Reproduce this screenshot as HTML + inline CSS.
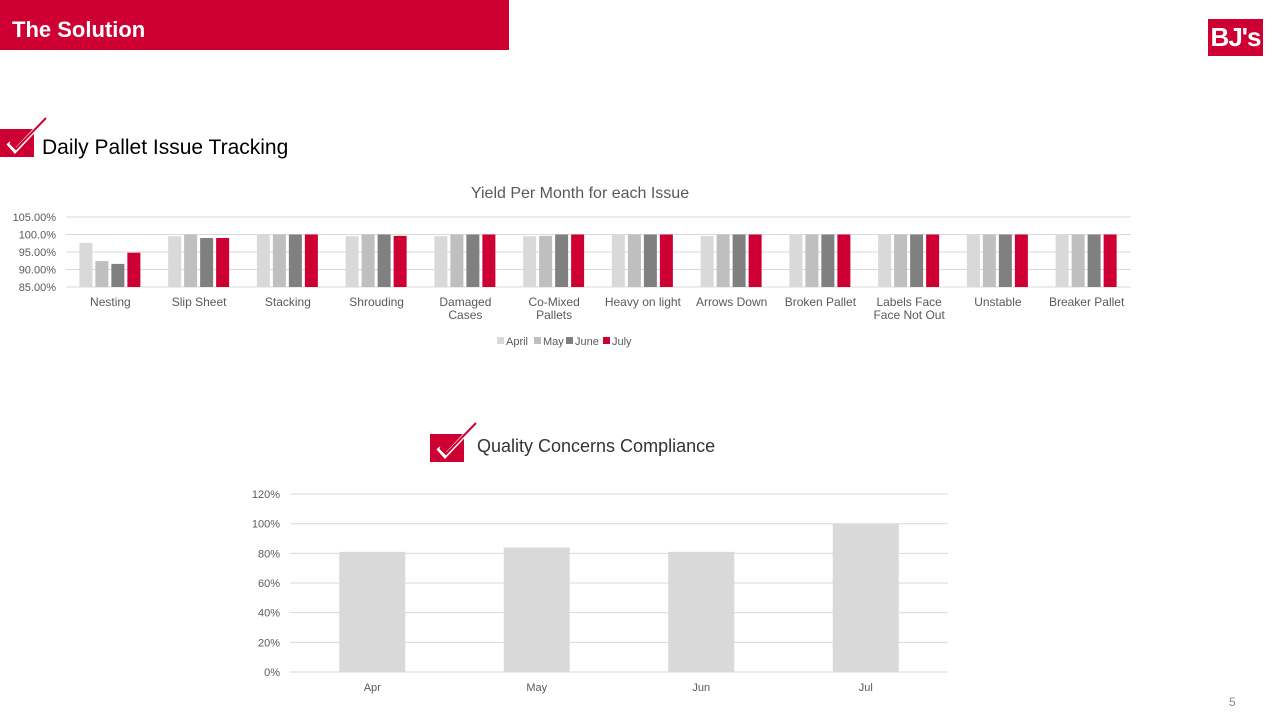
<!DOCTYPE html>
<html><head><meta charset="utf-8"><style>
body{margin:0;width:1280px;height:720px;background:#fff;position:relative;overflow:hidden;font-family:"Liberation Sans",sans-serif}
.abs{position:absolute}
</style></head><body>
<div class="abs" style="left:0;top:0;width:509px;height:50px;background:#ce0033"></div>
<div class="abs" style="left:12px;top:17px;color:#fff;font-weight:bold;font-size:22px">The Solution</div>
<div class="abs" style="left:1208px;top:19px;width:55px;height:37px;background:#ce0033;color:#fff;font-weight:bold;font-size:26px;line-height:37px;text-align:center;letter-spacing:-1px">BJ's</div>
<svg class="abs" style="left:0;top:115px" width="50" height="45"><rect x="0" y="14" width="34" height="28" fill="#ce0033"/><path d="M8 28 L15 36 L46 3" stroke="#fff" stroke-width="4" fill="none"/><path d="M10 28 L16 34 L46 3" stroke="#ce0033" stroke-width="2" fill="none"/></svg>
<div class="abs" style="left:42px;top:136px;font-size:21px;color:#000">Daily Pallet Issue Tracking</div>
<svg class="abs" style="left:430px;top:420px" width="50" height="45"><rect x="0" y="14" width="34" height="28" fill="#ce0033"/><path d="M8 28 L15 36 L46 3" stroke="#fff" stroke-width="4" fill="none"/><path d="M10 28 L16 34 L46 3" stroke="#ce0033" stroke-width="2" fill="none"/></svg>
<div class="abs" style="left:477px;top:436px;font-size:18px;color:#333">Quality Concerns Compliance</div>
<div class="abs" style="left:1229px;top:695px;font-size:12px;color:#888">5</div>
<svg id="c1" class="abs" style="left:0;top:0" width="1280" height="720"></svg>
<script>
const cats1=["Nesting","Slip Sheet","Stacking","Shrouding","Damaged|Cases","Co-Mixed|Pallets","Heavy on light","Arrows Down","Broken Pallet","Labels Face|Face Not Out","Unstable","Breaker Pallet"];
const aprVals=[97.6,99.5,100,99.5,99.5,99.5,100,99.6,100,100,100,100];
const mayVals=[92.4,100,100,100,100,99.6,100,100,100,100,100,100];
const junVals=[91.6,99,100,100,100,100,100,100,100,100,100,100];
const julVals=[94.8,99,100,99.6,100,100,100,100,100,100,100,100];
const ticks1=[85,90,95,100,105];
const tickLabels1=["85.00%","90.00%","95.00%","100.0%","105.00%"];
const months1=["April","May","June","July"];
const cats2=["Apr","May","Jun","Jul"];
const comp=[81,84,81,100];
const ticks2=[0,20,40,60,80,100,120];
const ns="http://www.w3.org/2000/svg";
function mk(svg,t,a,name){const e=document.createElementNS(ns,t);for(const k in a)e.setAttribute(k,a[k]);


svg.appendChild(e);return e;}
const s=document.getElementById('c1');
// chart 1
const X0=66,X1=1131,y1=v=>287-(v-85)*3.5,cw=(X1-X0)/cats1.length;
mk(s,'text',{x:580,y:198,'font-size':16,fill:'#595959','text-anchor':'middle'},'chart-title').textContent="Yield Per Month for each Issue";
ticks1.forEach((t,i)=>{mk(s,'line',{x1:X0,x2:X1,y1:y1(t),y2:y1(t),stroke:'#d9d9d9'},'gridline');
mk(s,'text',{x:56,y:y1(t)+4,'font-size':11,fill:'#595959','text-anchor':'end'},'y-tick-label').textContent=tickLabels1[i];});
const cols=["#d9d9d9","#bfbfbf","#808080","#ce0033"];
const series=[aprVals,mayVals,junVals,julVals];
cats1.forEach((c,i)=>{const cx=X0+cw*(i+0.5);
series.forEach((sv,j)=>{const bx=cx-31+j*16;mk(s,'rect',{x:bx,y:y1(sv[i]),width:13,height:287-y1(sv[i]),fill:cols[j]},'bar-'+months1[j].toLowerCase());});
c.split('|').forEach((l,k)=>{mk(s,'text',{x:cx,y:306+k*13,'font-size':12,fill:'#595959','text-anchor':'middle'},'x-tick-label').textContent=l;});});
months1.forEach((m,j)=>{const lx=497+[0,37,69,106][j];mk(s,'rect',{x:lx,y:337,width:7,height:7,fill:cols[j]},'legend-swatch');
mk(s,'text',{x:lx+9,y:345,'font-size':11,fill:'#595959'},'legend-entry').textContent=m;});
// chart 2
const P0=290,P1=948,y2=v=>672-v*1.483,cw2=(P1-P0)/cats2.length;
ticks2.forEach(t=>{mk(s,'line',{x1:P0,x2:P1,y1:y2(t),y2:y2(t),stroke:'#d9d9d9'},'gridline');
mk(s,'text',{x:280,y:y2(t)+4,'font-size':11,fill:'#595959','text-anchor':'end'},'y-tick-label').textContent=t+'%';});
cats2.forEach((c,i)=>{const cx=P0+cw2*(i+0.5);
mk(s,'rect',{x:cx-33,y:y2(comp[i]),width:66,height:672-y2(comp[i]),fill:'#d9d9d9'},'bar-'+c.toLowerCase());
mk(s,'text',{x:cx,y:691,'font-size':11,fill:'#595959','text-anchor':'middle'},'x-tick-label').textContent=c;});
</script>
</body></html>
